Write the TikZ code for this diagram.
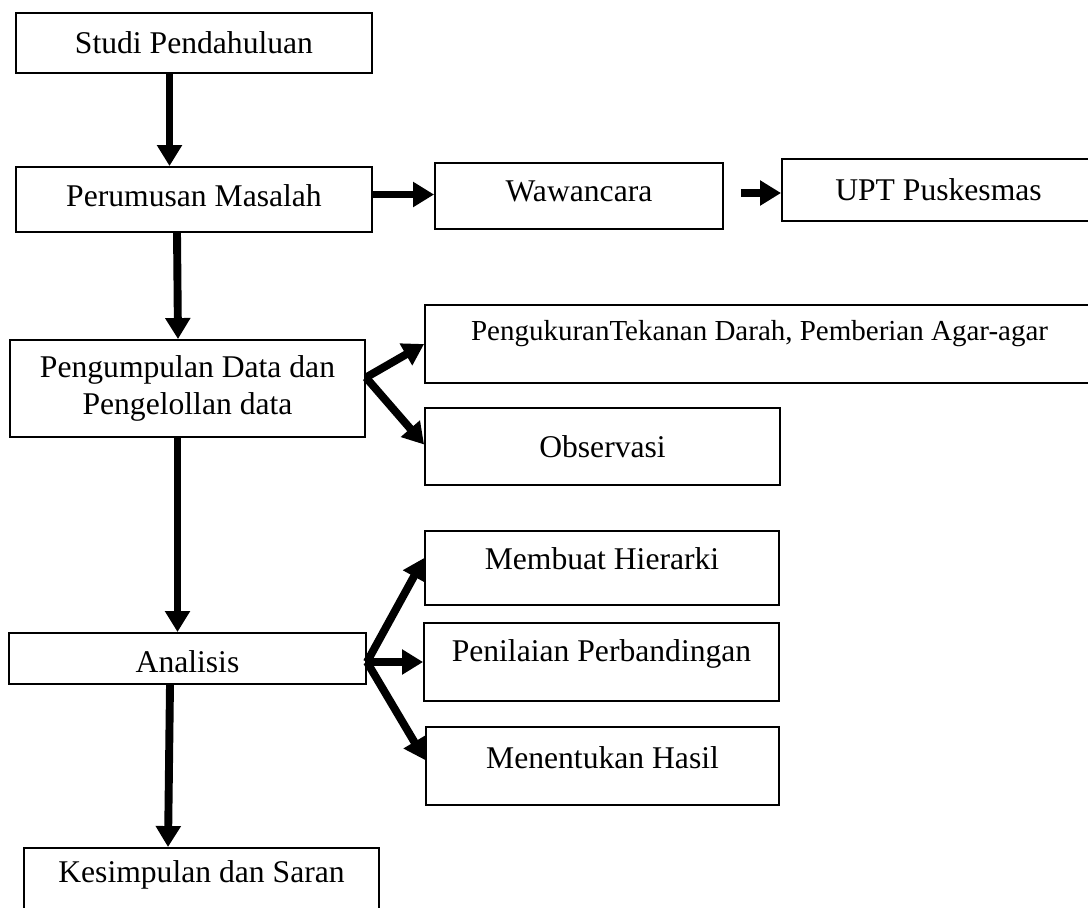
\documentclass[tikz,border=0pt]{standalone}
\usepackage{fontspec}
\setmainfont{Liberation Serif}
\usepackage{graphicx}
\usetikzlibrary{arrows.meta,calc}
\tikzstyle{blok}=[shape=rectangle, draw, line width=1.1pt, inner sep=0pt, align=center, font=\fontsize{18}{21}\selectfont]
\tikzstyle{panah}=[line width=4.5pt, -{Triangle[length=0.42cm,width=0.48cm]}]
\newcommand{\naik}[2]{\raisebox{#1}[\height][\depth]{#2}}

\begin{document}
\begin{tikzpicture}[x=0.02cm,y=-0.02cm]
\useasboundingbox (0,0) rectangle (1088,907);
\clip (0,0) rectangle (1088,907);

% kolom kiri
\node (studi) [blok, minimum width=7.12cm, minimum height=1.2cm] at (194,43) {Studi Pendahuluan};
\node (rumus) [blok, minimum width=7.12cm, minimum height=1.3cm] at (194,199.5) {\naik{0.07cm}{Perumusan Masalah}};
\node (kumpul) [blok, minimum width=7.1cm, minimum height=1.94cm] at (187.5,388.5) {Pengumpulan Data dan\\Pengelollan data};
\node (analisis) [blok, minimum width=7.14cm, minimum height=1.02cm] at (187.5,658.5) {\naik{-0.07cm}{Analisis}};
\node (simpul) [blok, minimum width=7.1cm, minimum height=1.36cm] at (201.5,882) {\naik{0.15cm}{Kesimpulan dan Saran}};

% kolom kanan
\node (wawan) [blok, minimum width=5.76cm, minimum height=1.32cm] at (579,196) {\naik{0.1cm}{Wawancara}};
\node (upt) [blok, minimum width=6.26cm, minimum height=1.24cm] at (938.5,190) {UPT Puskesmas};
\node (ukur) [blok, minimum width=13.38cm, minimum height=1.56cm, font=\fontsize{16.5}{20}\selectfont] at (759.5,344) {\naik{0.2cm}{PengukuranTekanan Darah, Pemberian Agar-agar}};
\node (obs) [blok, minimum width=7.1cm, minimum height=1.54cm] at (602.5,446.5) {Observasi};
\node (hirarki) [blok, minimum width=7.08cm, minimum height=1.48cm] at (602,568) {\naik{0.19cm}{Membuat Hierarki}};
\node (nilai) [blok, minimum width=7.1cm, minimum height=1.56cm] at (601.5,662) {\naik{0.17cm}{Penilaian Perbandingan}};
\node (hasil) [blok, minimum width=7.06cm, minimum height=1.56cm] at (602.5,766) {\naik{0.17cm}{Menentukan Hasil}};

% panah
\draw[panah] ([xshift=-0.49cm]studi.south) -- ([xshift=-0.49cm]rumus.north);
\draw[panah] ([xshift=-0.34cm]rumus.south) -- ([xshift=-0.19cm]kumpul.north);
\draw[panah] ([xshift=-0.2cm]kumpul.south) -- ([xshift=-0.2cm]analisis.north);
\draw[panah] ([xshift=-0.35cm]analisis.south) -- ([xshift=-0.67cm]simpul.north);

\coordinate (r) at ([yshift=0.1cm]rumus.east);
\draw[panah] (r) -- (r -| wawan.west);
\coordinate (w) at ([xshift=0.34cm,yshift=0.06cm]wawan.east);
\draw[panah] (w) -- (w -| upt.west);

\coordinate (k) at ([yshift=0.22cm]kumpul.east);
\draw[panah] (k) -- (ukur.west);
\draw[panah] (k) -- ([yshift=0.04cm]obs.west);

\coordinate (a) at ([yshift=-0.07cm]analisis.east);
\draw[panah] (a) -- ([yshift=0.2cm]hirarki.west);
\draw[panah] (a) -- (nilai.west);
\draw[panah] (a) -- ([yshift=0.12cm]hasil.west);

\end{tikzpicture}
\end{document}
